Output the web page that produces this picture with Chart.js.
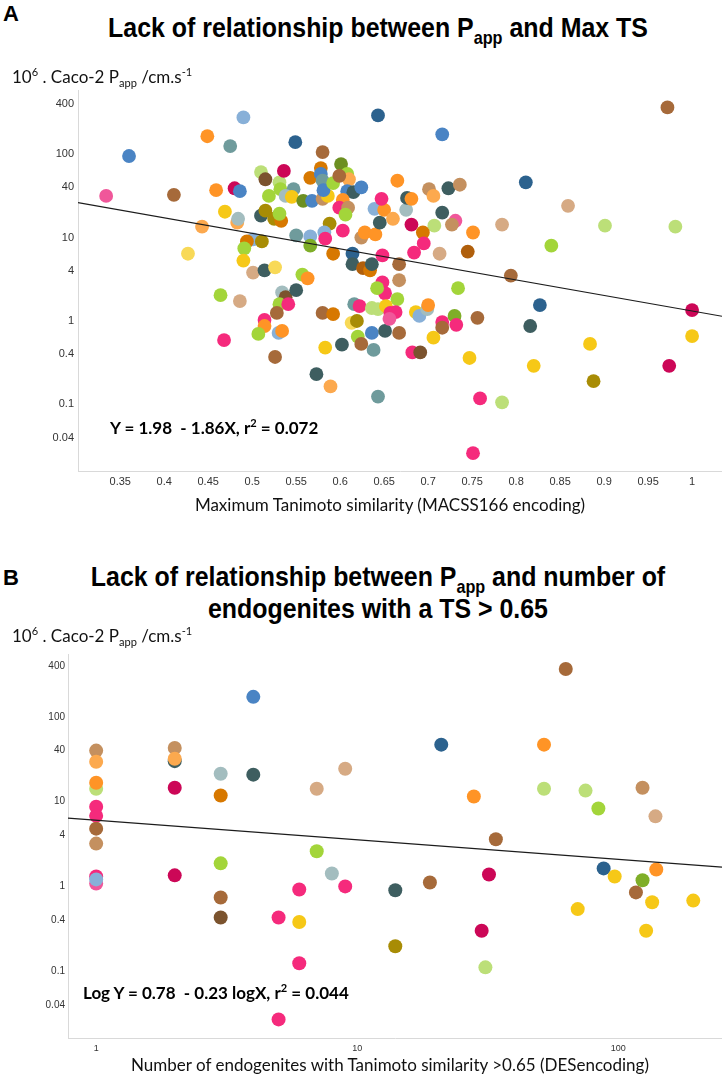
<!DOCTYPE html>
<html><head><meta charset="utf-8">
<script src="https://cdn.jsdelivr.net/npm/chart.js@4.4.1/dist/chart.umd.min.js"></script>
<style>
html,body{margin:0;padding:0;background:#fff;}
body{width:722px;height:1079px;position:relative;overflow:hidden;}
canvas{position:absolute;left:0;}
.t{position:absolute;white-space:pre;color:#000;z-index:2;}
.panel{font:bold 22px "Liberation Sans",Arial,sans-serif;line-height:24px;}
.title{left:0;width:756px;text-align:center;font-family:"Liberation Sans Narrow","Liberation Sans",Arial,sans-serif;font-weight:bold;font-size:28px;line-height:32px;transform:scaleX(0.89);transform-origin:50% 50%;}
.ytitle{font-family:Lato,"Open Sans",sans-serif;font-size:17px;line-height:20px;color:#111;}
.xtitle{left:0;width:780px;text-align:center;font-family:Lato,"Open Sans",sans-serif;font-size:17px;line-height:22px;color:#111;}
.eq{font-family:Lato,"Open Sans",sans-serif;font-weight:bold;font-size:17px;line-height:22px;}
sub,sup{font-size:65%;line-height:0;}
</style></head>
<body>
<canvas id="cA" width="722" height="420" style="top:80px"></canvas>
<canvas id="cB" width="722" height="415" style="top:645px"></canvas>

<div class="t panel" style="left:3px;top:2px">A</div>
<div class="t title" style="top:12px">Lack of relationship between P<sub>app</sub> and Max TS</div>
<div class="t ytitle" style="left:12px;top:67px">10<sup>6</sup> . Caco-2 P<sub>app</sub> /cm.s<sup>-1</sup></div>
<div class="t eq" style="left:110px;top:417px">Y = 1.98  - 1.86X, r<sup>2</sup> = 0.072</div>
<div class="t xtitle" style="top:494px">Maximum Tanimoto similarity (MACSS166 encoding)</div>

<div class="t panel" style="left:3px;top:566px">B</div>
<div class="t title" style="top:561px">Lack of relationship between P<sub>app</sub> and number of
endogenites with a TS &gt; 0.65</div>
<div class="t ytitle" style="left:12px;top:626px">10<sup>6</sup> . Caco-2 P<sub>app</sub> /cm.s<sup>-1</sup></div>
<div class="t eq" style="left:83px;top:982px">Log Y = 0.78  - 0.23 logX, r<sup>2</sup> = 0.044</div>
<div class="t xtitle" style="top:1054px">Number of endogenites with Tanimoto similarity &gt;0.65 (DESencoding)</div>

<script>
// ---------- Panel A data: max Tanimoto similarity vs Caco-2 Papp ----------
const tsA = [0.334,0.360,0.411,0.449,0.459,0.443,0.427,0.469,0.490,0.475,0.480,0.486,0.483,0.484,0.464,0.486,0.501,0.494,0.511,0.491,
0.490,0.501,0.514,0.526,0.510,0.515,0.510,0.515,0.519,0.531,0.532,0.536,0.547,0.538,0.545,0.525,0.533,0.531,0.558,0.568,
0.550,0.566,0.566,0.566,0.549,0.580,0.578,0.578,0.580,0.580,0.586,0.581,0.592,0.601,0.608,0.610,0.599,0.608,0.615,0.624,
0.603,0.599,0.609,0.606,0.588,0.582,0.583,0.603,0.592,0.614,0.614,0.626,0.634,0.636,0.624,0.628,0.640,0.648,0.645,0.639,
0.650,0.660,0.647,0.665,0.675,0.676,0.681,0.681,0.684,0.667,0.667,0.648,0.651,0.642,0.665,0.643,0.534,0.538,0.550,0.531,
0.541,0.528,0.514,0.557,0.563,0.616,0.622,0.580,0.592,0.636,0.643,0.652,0.657,0.663,0.686,0.468,0.514,0.507,0.530,0.534,
0.526,0.613,0.619,0.620,0.624,0.583,0.602,0.573,0.589,0.643,0.636,0.651,0.667,0.638,0.656,0.682,0.691,0.690,0.699,0.700,
0.716,0.716,0.730,0.732,0.756,0.706,0.747,0.827,0.816,0.820,0.884,0.888,1.0,1.0,0.974,0.759,0.784,0.751,0.716,0.972,
0.701,0.723,0.736,0.706,0.716,0.731,0.727,0.707,0.694,0.751,0.695,0.713,0.745,0.811,0.859,0.784,0.901,0.981,0.840,0.794,0.734];
const pappA = [31.6,95,32.5,164,37,13.5,6.4,20.4,276,125,39,36,15.1,16.8,2.04,1.73,9.5,9.0,9.0,7.4,
5.3,3.8,4.05,4.4,18.3,21,61,50,31.6,46,38,63,38,31.6,30.8,16.8,15.9,19.3,27.6,27.6,
10.6,10.3,8.0,52,139,106,68,58,48,29.1,31.6,37,45,76,58,50,55,36,35,40,
28.3,22.8,22.8,18.8,14.7,11.5,9.7,12.1,6.4,6.4,4.8,4.3,4.05,4.8,10,11.5,10.9,6.1,15.1,22.1,
21.5,16.8,29.1,48,21.5,29.9,29.1,14.3,6.6,4.8,3.08,2.9,2.15,2.47,1.83,291,2.2,1.93,2.34,1.59,
1.59,1.25,1.03,3.6,3.25,1.59,1.51,1.25,1.21,1.43,1.39,1.51,1.25,1.28,1.28,0.59,0.87,0.70,0.72,0.76,
0.37,0.95,1.0,0.65,0.53,0.48,0.52,0.23,0.164,0.124,0.72,0.76,0.72,0.45,1.06,0.42,0.42,1.15,1.39,1.55,
0.97,0.83,1.15,0.90,1.09,0.63,0.36,1.55,0.87,0.29,0.53,0.19,1.35,0.66,0.29,0.118,0.106,0.026,173,363,
38,39,43,31.6,19.9,15.9,14.3,13.9,11.5,11.5,8.5,6.4,6.8,46,24,14.3,13.9,13.5,8.0,3.5,2.47];
const classA = ['lpink','steel','brown','orange','orange','lorange','lyellow','yellow','lblue','teal','crimson','steel','lorange','grey','lime','ltan','lblue','dorange','olive','lime',
'yellow','ltan','slate','lyellow','slate','olive','llime','dbrown','lime','llime','lime','crimson','teal','grey','yellow','olive','dorange','lime','dgreen','steel',
'teal','lblue','green','dorange','dblue','brown','dorange','steel','teal','tan','yellow','steel','lime','dgreen','lime','lorange','brown','steel','slate','steel',
'orange','pink','tan','lime','olive','lblue','pink','pink','dorange','dblue','slate','rust','dorange','slate','tan','orange','orange','pink','slate','lblue',
'orange','lorange','pink','orange','grey','slate','orange','crimson','pink','brown','tan','pink','pink','lime','lime','dblue','grey','dbrown','slate','lime',
'pink','brown','pink','lime','orange','teal','pink','brown','dorange','llime','llime','yellow','pink','pink','yellow','pink','orange','lime','lblue','orange',
'brown','lyellow','olive','lime','brown','yellow','slate','slate','lorange','teal','steel','slate','brown','teal','lpink','pink','dbrown','lblue','grey','orange',
'pink','brown','green','pink','brown','yellow','yellow','dblue','slate','yellow','yellow','olive','crimson','yellow','crimson','pink','llime','pink','steel','brown',
'tan','slate','tan','lorange','slate','lpink','tan','llime','dorange','orange','pink','ltan','rust','dblue','ltan','ltan','llime','llime','lime','brown','lime'];

// ---------- Panel B data: number of endogenites with TS > 0.65 vs Caco-2 Papp ----------
const countB = [1,1,1,1,1,1,1,1,1,1,1,2,2,2,2,2,3,3,3,3,3,4,4,5,5,6,6,6,7,7,8,9,9,14,14,19,21,28,30,31,32,34,52,52,63,70,75,84,88,97,117,124,124,128,135,139,140,194];
const pappB = [40,29.5,14.2,16.7,8.7,6.8,4.8,3.2,1.31,1.08,1.21,43,30,32,14.6,1.35,21.3,11.8,1.87,0.74,0.43,172,20.8,0.43,0.027,0.92,0.38,0.124,14.2,2.6,1.42,24.4,1.0,0.90,0.197,1.11,47,11.5,0.30,0.111,1.38,3.6,47,14.2,367,0.54,13.5,8.3,1.63,1.31,0.85,1.18,14.6,0.30,0.65,6.7,1.58,0.68];
const classB = ['tan','lorange','llime','orange','pink','pink','brown','tan','pink','lpink','lblue','tan','slate','lorange','crimson','crimson','grey','dorange','lime','brown','dbrown','steel','slate','pink','pink','pink','yellow','pink','ltan','lime','grey','ltan','pink','slate','olive','brown','dblue','orange','crimson','llime','crimson','brown','orange','llime','brown','yellow','llime','lime','dblue','yellow','brown','green','tan','yellow','yellow','ltan','orange','yellow'];

// ---------- axes and fits ----------
const xTicksA = [0.35,0.4,0.45,0.5,0.55,0.6,0.65,0.7,0.75,0.8,0.85,0.9,0.95,1];
const yTicksP = [0.04,0.1,0.4,1,4,10,40,100,400];
const xTicksB = [1,10,100];
const fitA = [1.98,-1.86];   // log10(Y) = a + b*X
const fitB = [0.78,-0.23];   // log10(Y) = a + b*log10(X)

const palette = {
  pink:'#F52A7C', lpink:'#F0579A', crimson:'#CC0757', orange:'#FF9426', lorange:'#FCA94E',
  dorange:'#D77800', rust:'#B05F0C', brown:'#A66A3A', dbrown:'#7B532E', tan:'#C4905F',
  ltan:'#D6AA84', yellow:'#F6C817', lyellow:'#F8D957', olive:'#A88C05', lime:'#A3D53A',
  llime:'#BCDF78', green:'#7FAE28', dgreen:'#6C8F21', steel:'#4A84C4', lblue:'#88B0D8',
  dblue:'#2C628E', slate:'#3E5E60', teal:'#6F9B9C', grey:'#A3BDBF'
};

Chart.defaults.animation = false;
Chart.defaults.font.family = '"Liberation Sans", Arial, sans-serif';

function makeChart(id, cfg) {
  const pts = cfg.xs.map((x,i)=>({x:x, y:cfg.ys[i]}));
  const cols = cfg.cls.map(c=>palette[c]);
  return new Chart(document.getElementById(id), {
    type:'scatter',
    data:{datasets:[
      {data:cfg.line, showLine:true, borderColor:'#1c1c1c', borderWidth:1.2, pointRadius:0, order:0},
      {data:pts, pointBackgroundColor:cols, pointBorderWidth:0, pointRadius:cfg.r, order:1}
    ]},
    options:{
      responsive:false, events:[],
      layout:{padding:{top:8,left:0,right:0,bottom:0}, autoPadding:false},
      plugins:{legend:{display:false}, tooltip:{enabled:false}},
      scales:{
        x:{type:cfg.xType, min:cfg.xMin, max:cfg.xMax,
           afterBuildTicks:s=>{s.ticks = cfg.xTicks.map(v=>({value:v}));},
           afterFit:s=>{s.height = cfg.xH;},
           ticks:{callback:v=>String(v), autoSkip:false, maxRotation:0, padding:cfg.xPad, color:'#333', font:{size:cfg.xFs}},
           grid:{display:false, drawTicks:false},
           border:{display:true, color:'#D9D9D9', width:1}},
        y:{type:'logarithmic', min:cfg.yMin, max:cfg.yMax,
           afterBuildTicks:s=>{s.ticks = yTicksP.map(v=>({value:v}));},
           afterFit:s=>{s.width = cfg.yW;},
           ticks:{callback:v=>String(v), autoSkip:false, padding:cfg.yPad, color:'#333', font:{size:cfg.yFs}},
           grid:{display:false, drawTicks:false},
           border:{display:true, color:'#D9D9D9', width:1}}
      }
    }
  });
}

const axA = {xMin:0.302, xMax:1.034, yMin:0.0159, yMax:578};
makeChart('cA', {
  xs:tsA, ys:pappA, cls:classA, r:6.9, xType:'linear', xTicks:xTicksA,
  xMin:axA.xMin, xMax:axA.xMax, yMin:axA.yMin, yMax:axA.yMax,
  xH:29, yW:78, xPad:4, yPad:4, xFs:11, yFs:11,
  line:[axA.xMin, axA.xMax].map(x=>({x:x, y:Math.pow(10, fitA[0]+fitA[1]*x)}))
});

const axB = {xMin:0.78, xMax:250, yMin:0.0163, yMax:551};
makeChart('cB', {
  xs:countB, ys:pappB, cls:classB, r:7, xType:'logarithmic', xTicks:xTicksB,
  xMin:axB.xMin, xMax:axB.xMax, yMin:axB.yMin, yMax:axB.yMax,
  xH:22, yW:68, xPad:5, yPad:3, xFs:9, yFs:10,
  line:[axB.xMin, axB.xMax].map(x=>({x:x, y:Math.pow(10, fitB[0]+fitB[1]*Math.log10(x))}))
});
</script>
</body></html>
